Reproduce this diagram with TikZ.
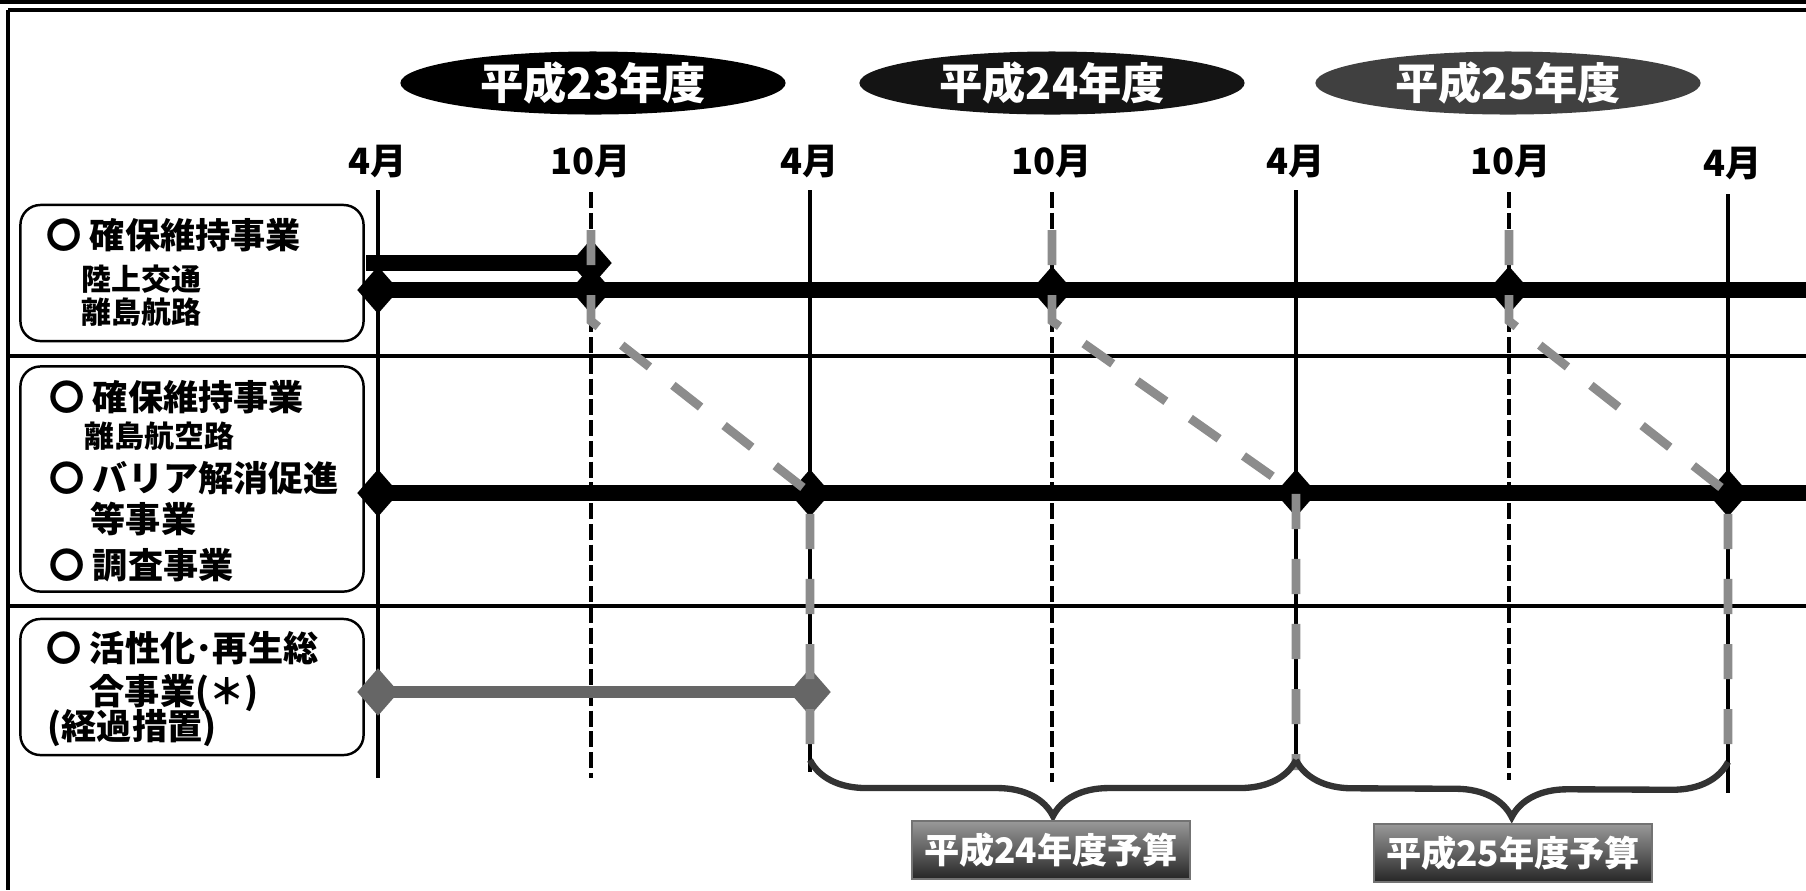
\documentclass[tikz,border=0pt]{standalone}
\usepackage{fontspec}
\setmainfont{Noto Sans CJK JP}
\usetikzlibrary{positioning}
\usetikzlibrary{shapes.geometric}
\usetikzlibrary{decorations.pathreplacing}

\begin{document}
\begin{tikzpicture}[
    >=latex,
    x = 0.01cm, y = -0.01cm,
    yearoval/.style = {
        ellipse, fill = black, text = white, inner sep = 0pt,
        minimum width = 3.85cm, minimum height = 0.63cm,
        font = \fontsize{12.3}{14}\selectfont\bfseries
    },
    monthlabel/.style = {inner sep = 0pt, font = \fontsize{10.3}{12}\selectfont\bfseries},
    monthline/.style = {black, line width = 1pt},
    halfline/.style = {black, line width = 1.1pt, dash pattern = on 4.5pt off 1.4pt},
    rowline/.style = {black, line width = 1.2pt},
    itembox/.style = {
        draw, rectangle, rounded corners = 0.2cm, line width = 0.7pt,
        minimum width = 3.43cm, inner sep = 0pt
    },
    itemtext/.style = {anchor = west, inner sep = 0pt, font = \fontsize{10}{12}\selectfont\bfseries},
    subtext/.style = {anchor = west, inner sep = 0pt, font = \fontsize{8.5}{10}\selectfont\bfseries},
    knot/.style = {
        diamond, fill = black, inner sep = 0pt,
        minimum width = 0.42cm, minimum height = 0.48cm
    },
    grayknot/.style = {knot, fill = black!60},
    bar/.style = {black, line width = 4.3pt},
    graybar/.style = {black!60, line width = 3.4pt},
    carry/.style = {black!45, line width = 2.5pt, dash pattern = on 10pt off 8.5pt},
    budgetbrace/.style = {
        decorate, decoration = {brace, mirror, amplitude = 0.56cm},
        black!80, line width = 1.8pt
    },
    budget/.style = {
        rectangle, draw = black!55, top color = black!40, bottom color = black!85,
        text = white, minimum width = 2.78cm, minimum height = 0.56cm,
        font = \fontsize{10}{12}\selectfont\bfseries
    },
  ]
  \useasboundingbox (0,0) rectangle (1806,890);

  % frame
  \draw[line width = 1.2pt] (0,2) -- (1806,2);
  \draw[line width = 0.9pt] (8,10) -- (1806,10);
  \draw[line width = 0.9pt] (8,10) -- (8,890);

  % fiscal years
  \node[yearoval] (fy23) at (593,83) {平成23年度};
  \node[yearoval, fill = black!92] (fy24) at (1052,83) {平成24年度};
  \node[yearoval, fill = black!75] (fy25) at (1508,83) {平成25年度};

  % months
  \node[monthlabel] (apr1) at (378,162) {4月};
  \node[monthlabel] (oct1) at (591,162) {10月};
  \node[monthlabel] (apr2) at (810,162) {4月};
  \node[monthlabel] (oct2) at (1052,162) {10月};
  \node[monthlabel] (apr3) at (1296,162) {4月};
  \node[monthlabel] (oct3) at (1511,162) {10月};
  \node[monthlabel] (apr4) at (1733,164) {4月};

  \coordinate (apr1top) at (378,190);  \coordinate (apr1bot) at (378,778);
  \coordinate (oct1top) at (591,192);  \coordinate (oct1bot) at (591,778);
  \coordinate (apr2top) at (810,190);  \coordinate (apr2bot) at (810,772);
  \coordinate (oct2top) at (1052,192); \coordinate (oct2bot) at (1052,782);
  \coordinate (apr3top) at (1296,190); \coordinate (apr3bot) at (1296,766);
  \coordinate (oct3top) at (1509,192); \coordinate (oct3bot) at (1509,780);
  \coordinate (apr4top) at (1728,194); \coordinate (apr4bot) at (1728,793);

  % row separators
  \draw[rowline] (8,356) -- (1806,356);
  \draw[rowline] (8,606) -- (1806,606);

  \draw[monthline] (apr1top) -- (apr1bot);
  \draw[halfline] (oct1top) -- (oct1bot);
  \draw[monthline] (apr2top) -- (apr2bot);
  \draw[halfline] (oct2top) -- (oct2bot);
  \draw[monthline] (apr3top) -- (apr3bot);
  \draw[halfline] (oct3top) -- (oct3bot);
  \draw[monthline] (apr4top) -- (apr4bot);

  % items
  \node[itembox, minimum height = 1.36cm] (box1) at (192,273) {};
  \node[itemtext] (t1a) at (46,235) {〇 確保維持事業};
  \node[subtext] (t1b) at (81,279) {陸上交通};
  \node[subtext] (t1c) at (81,312) {離島航路};

  \node[itembox, minimum height = 2.25cm] (box2) at (192,479) {};
  \node[itemtext] (t2a) at (49,397) {〇 確保維持事業};
  \node[subtext] (t2b) at (84,436) {離島航空路};
  \node[itemtext] (t2c) at (49,478) {〇 バリア解消促進};
  \node[itemtext] (t2d) at (90,519) {等事業};
  \node[itemtext] (t2e) at (49,565) {〇 調査事業};

  \node[itembox, minimum height = 1.36cm] (box3) at (192,687) {};
  \node[itemtext] (t3a) at (46,648) {〇 活性化･再生総};
  \node[itemtext] (t3b) at (89,693) {合事業(＊)};
  \node[itemtext] (t3c) at (47,728) {(経過措置)};

  % row 1
  \coordinate (r1start) at (366,263);
  \coordinate (r1end) at (1806,290);
  \node[knot] (k0) at (591,263) {};
  \node[knot] (k1a) at (378,290) {};
  \node[knot] (k1b) at (591,290) {};
  \node[knot] (k1c) at (1052,290) {};
  \node[knot] (k1d) at (1509,290) {};
  \draw[bar] (r1start) -- (k0.center);
  \draw[bar] (k1a.center) -- (k1b.center) -- (k1c.center) -- (k1d.center) -- (r1end);

  % row 2
  \coordinate (r2end) at (1806,493);
  \node[knot] (k2a) at (378,493) {};
  \node[knot] (k2b) at (810,493) {};
  \node[knot] (k2c) at (1296,493) {};
  \node[knot] (k2d) at (1728,493) {};
  \draw[bar] (k2a.center) -- (k2b.center) -- (k2c.center) -- (k2d.center) -- (r2end);

  % row 3
  \node[grayknot] (k3a) at (378,692) {};
  \node[grayknot] (k3b) at (810,692) {};
  \draw[graybar] (k3a.center) -- (k3b.center);

  % carry-over
  \coordinate (f1top) at (591,230);  \coordinate (f1turn) at (591,321);  \coordinate (f1end) at (810,770);
  \coordinate (f2top) at (1052,230); \coordinate (f2turn) at (1052,321); \coordinate (f2end) at (1296,770);
  \coordinate (f3top) at (1509,230); \coordinate (f3turn) at (1509,321); \coordinate (f3end) at (1728,762);
  \draw[carry] (f1top) -- (f1turn) -- (k2b.center) -- (f1end);
  \draw[carry] (f2top) -- (f2turn) -- (k2c.center) -- (f2end);
  \draw[carry] (f3top) -- (f3turn) -- (k2d.center) -- (f3end);

  % budgets
  \coordinate (br1a) at (810,760);  \coordinate (br1b) at (1296,760);
  \coordinate (br2a) at (1296,760); \coordinate (br2b) at (1728,762);
  \draw[budgetbrace] (br1a) -- (br1b);
  \draw[budgetbrace] (br2a) -- (br2b);

  \node[budget] (b24) at (1051,850) {平成24年度予算};
  \node[budget] (b25) at (1513,853) {平成25年度予算};
\end{tikzpicture}
\end{document}
